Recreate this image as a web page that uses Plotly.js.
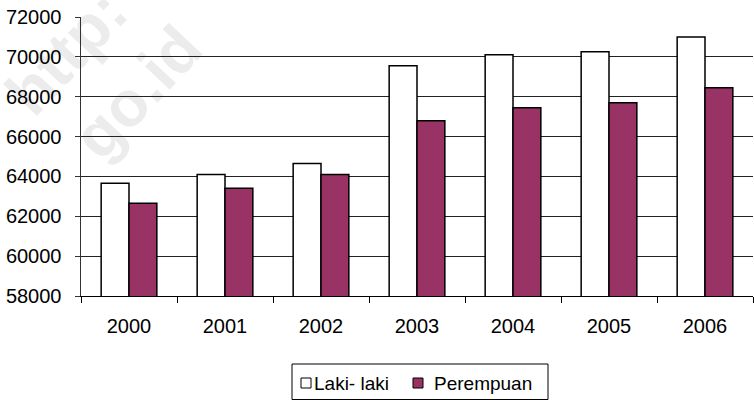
<!DOCTYPE html>
<html>
<head>
<meta charset="utf-8">
<script src="https://cdn.plot.ly/plotly-3.0.1.min.js"></script>
<style>html,body{margin:0;padding:0;background:#fff;}#chart{width:754px;height:400px;}</style>
</head>
<body>
<div id="chart"></div>
<script>
const years = ['2000', '2001', '2002', '2003', '2004', '2005', '2006'];
const lakiLaki = [63660, 64100, 64650, 69550, 70100, 70250, 71000];
const perempuan = [62650, 63410, 64100, 66790, 67450, 67700, 68450];
const seriesNames = ['Laki- laki', 'Perempuan'];
const seriesColors = ['#ffffff', '#993366'];
const yTicks = [58000, 60000, 62000, 64000, 66000, 68000, 70000, 72000];

const FAM = 'Liberation Sans, Arial, sans-serif';
const font = {family: FAM, color: '#000'};

const W = 754, H = 400, ML = 81, MR = 1, MT = 17, MB = 104;
const PW = W - ML - MR, PH = H - MT - MB;
const px = v => (v - ML) / PW;          // pixel x -> paper x
const py = v => (H - MB - v) / PH;      // pixel y -> paper y

const traces = seriesNames.map((n, i) => ({
  type: 'bar', name: n, x: years, y: i === 0 ? lakiLaki : perempuan,
  marker: {color: seriesColors[i], line: {color: '#000', width: 1.5}}
}));

// manual legend (compact, like the original)
const legendShapes = [
  {type: 'rect', xref: 'paper', yref: 'paper', x0: px(292), x1: px(548), y0: py(399.5), y1: py(364),
   line: {color: '#000', width: 1}, fillcolor: '#fff', layer: 'above'},
  {type: 'rect', xref: 'paper', yref: 'paper', x0: px(301), x1: px(311), y0: py(388), y1: py(378),
   line: {color: '#000', width: 1}, fillcolor: seriesColors[0], layer: 'above'},
  {type: 'rect', xref: 'paper', yref: 'paper', x0: px(413), x1: px(423), y0: py(388), y1: py(378),
   line: {color: '#000', width: 1}, fillcolor: seriesColors[1], layer: 'above'}
];
const legendAnn = [
  {xref: 'paper', yref: 'paper', x: px(312), y: py(383), xanchor: 'left', yanchor: 'middle',
   text: seriesNames[0], showarrow: false, font: Object.assign({size: 19}, font)},
  {xref: 'paper', yref: 'paper', x: px(432), y: py(383), xanchor: 'left', yanchor: 'middle',
   text: seriesNames[1], showarrow: false, font: Object.assign({size: 19}, font)}
];

const wm = (cx, cy, t) => ({
  type: 'line', xref: 'paper', yref: 'paper', x0: px(cx - 1), y0: py(cy + 1), x1: px(cx + 1), y1: py(cy - 1),
  layer: 'below', line: {width: 0, color: 'rgba(0,0,0,0)'},
  label: {text: '<b>' + t + '</b>', textangle: -47, yanchor: 'middle', xanchor: 'center',
          font: {size: 64, color: '#ececec', family: FAM}}
});

const layout = {
  width: W, height: H,
  margin: {l: ML, r: MR, t: MT, b: MB, pad: 0},
  paper_bgcolor: '#fff', plot_bgcolor: 'rgba(0,0,0,0)',
  font: Object.assign({size: 20}, font),
  barmode: 'group', bargap: 0.42, bargroupgap: 0,
  showlegend: false,
  xaxis: {type: 'category', showline: true, linecolor: '#000', linewidth: 1,
          ticks: 'outside', tickson: 'boundaries', ticklen: 6, tickcolor: '#000',
          tickfont: Object.assign({size: 20}, font), showgrid: false, ticklabelstandoff: 12},
  yaxis: {range: [58000, 72000], tickvals: yTicks, ticktext: yTicks.map(String),
          showline: true, linecolor: '#333', linewidth: 1.5,
          ticks: 'outside', ticklen: 5, tickcolor: '#333',
          showgrid: true, gridcolor: '#222', gridwidth: 1, zeroline: false,
          tickfont: Object.assign({size: 20}, font), ticklabelstandoff: 9},
  shapes: [wm(62, 48, 'http:'), wm(133, 88, 'go.id')].concat(legendShapes),
  annotations: legendAnn
};

Plotly.newPlot('chart', traces, layout, {staticPlot: true, displayModeBar: false});
</script>
</body>
</html>
